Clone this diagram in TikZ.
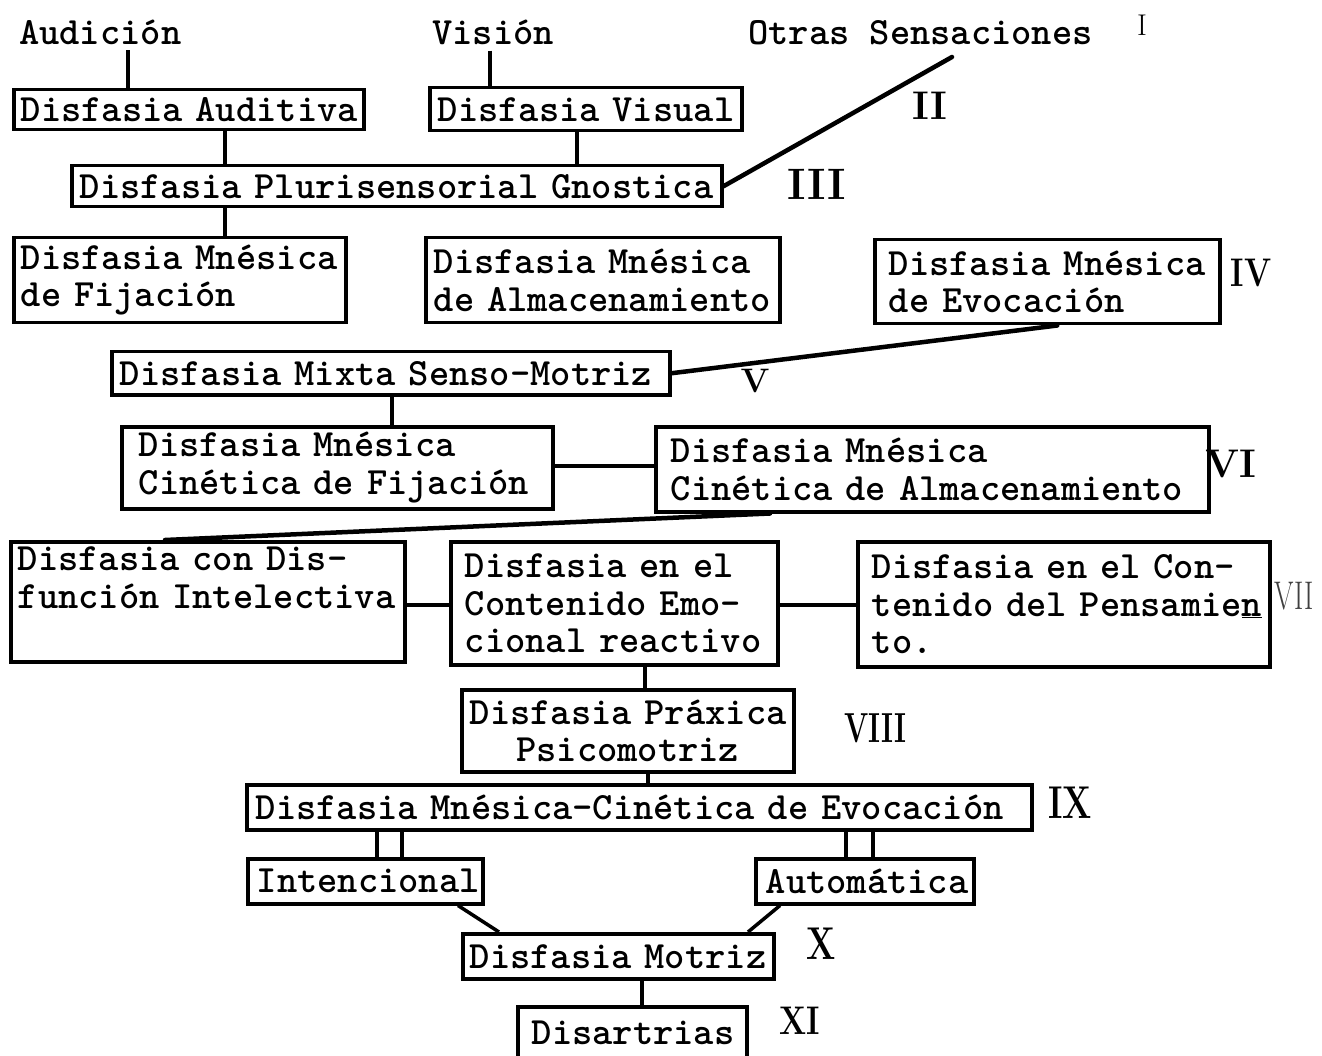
\documentclass[tikz,border=0pt]{standalone}
\usetikzlibrary{calc}
\begin{document}
\begin{tikzpicture}[x=1pt,y=-1pt,
  tw/.style={font=\fontsize{38.6}{37.5}\selectfont\ttfamily\bfseries},
  box/.style={draw, line width=3.5pt, anchor=north west, align=left,
              inner ysep=0pt, inner xsep=8pt, tw},
  lbl/.style={tw, inner xsep=0pt, inner ysep=5pt, anchor=base west},
  rom/.style={font=\fontsize{40}{40}\selectfont\rmfamily, inner sep=0pt},
  romb/.style={rom, font=\fontsize{40}{40}\selectfont\rmfamily\bfseries},
  narrow/.style={xscale=0.8, transform shape},
  con/.style={line width=3.5pt},
  dia/.style={line width=4.5pt, line cap=round}]

\fill[white] (0,0) rectangle (1322,1056);
\useasboundingbox (0,0) rectangle (1322,1056);

% sensory inputs
\node[lbl] (audl) at (19,45) {Audición};
\node[lbl] (visl) at (432,45) {Visión};
\node[lbl] (otras) at (748,45) {Otras~Sensaciones};

% boxes, level by level (lines are kept whole with ~)
\node[box, inner xsep=7pt, text width=336pt, minimum height=40pt] (audb) at (12,88) {Disfasia~Auditiva};
\node[box, text width=296pt, minimum height=43pt] (visb) at (428,86) {Disfasia~Visual};
\node[box, text width=634pt, minimum height=41pt] (pluri) at (70,164) {Disfasia~Plurisensorial~Gnostica};

\node[box, inner xsep=7pt, text width=318pt, minimum height=85pt] (fij) at (12,236) {Disfasia~Mnésica\\de~Fijación};
\node[box, text width=338pt, minimum height=85pt] (alm) at (424,236) {Disfasia~Mnésica\\de~Almacenamiento};
\node[box, inner xsep=14pt, text width=317pt, minimum height=84pt] (evo) at (873,238) {Disfasia~Mnésica\\de~Evocación};

\node[box, text width=542pt, minimum height=43pt] (mixta) at (110,350) {Disfasia~Mixta~Senso-Motriz};

\node[box, inner xsep=17pt, text width=397pt, minimum height=82pt] (cfij) at (120,425) {Disfasia~Mnésica\\Cinética~de~Fijación};
\node[box, inner xsep=15pt, text width=523pt, minimum height=85pt] (calm) at (654,425) {Disfasia~Mnésica\\Cinética~de~Almacenamiento};

\node[box, inner xsep=7pt, text width=380pt, minimum height=120pt] (disf) at (9,540) {Disfasia~con~Dis-\\función~Intelectiva\\\strut};
\node[box, inner xsep=14pt, text width=299pt, minimum height=123pt] (emo) at (449,540) {Disfasia~en~el\\Contenido~Emo-\\cional~reactivo};
\node[box, inner xsep=14pt, text width=384pt, minimum height=125pt] (pens) at (856,540) {Disfasia~en~el~Con-\\tenido~del~Pensamie\underline{n}\\to.};

\node[box, align=center, text width=316pt, minimum height=82pt] (prax) at (460,688) {Disfasia~Práxica\\Psicomotriz};
\node[box, inner xsep=9pt, text width=767pt, minimum height=45pt] (ix) at (245,783) {Disfasia~Mnésica-Cinética~de~Evocación};

\node[box, inner xsep=9pt, text width=217pt, minimum height=45pt] (int) at (246,857) {Intencional};
\node[box, inner xsep=10pt, text width=198pt, minimum height=45pt] (aut) at (754,857) {Automática};

\node[box, inner xsep=7pt, text width=297pt, minimum height=45pt] (mot) at (461,932) {Disfasia~Motriz};
\node[box, inner xsep=14pt, text width=201pt, minimum height=52pt] (dis) at (516,1005) {Disartrias};

% level numerals
\node[rom, font=\fontsize{30}{30}\selectfont\rmfamily] (n1) at (1142,25) {I};
\node[romb] (n2) at (930,106) {II};
\node[romb, font=\fontsize{44}{44}\selectfont\rmfamily\bfseries] (n3) at (817,184) {III};
\node[romb, narrow] (n4) at (1251,273) {IV};
\node[romb, font=\fontsize{34}{34}\selectfont\rmfamily\bfseries] (n5) at (755,381) {V};
\node[romb] (n6) at (1231,464) {VI};
\node[rom, text=black!75, xscale=0.7, transform shape] (n7) at (1294,596) {VII};
\node[romb, font=\fontsize{42}{42}\selectfont\rmfamily\bfseries, xscale=0.68, transform shape] (n8) at (875,728) {VIII};
\node[romb, font=\fontsize{46}{46}\selectfont\rmfamily\bfseries, xscale=0.75, transform shape] (n9) at (1070,803) {IX};
\node[romb, font=\fontsize{46}{46}\selectfont\rmfamily\bfseries, xscale=0.75, transform shape] (n10) at (821,944) {X};
\node[romb, narrow] (n11) at (800,1021) {XI};

% positions of the connector lines
\coordinate (xa) at (128,0);
\coordinate (xv) at (490,0);
\coordinate (xp1) at (225,0);
\coordinate (xp2) at (577,0);
\coordinate (xm) at (392,0);
\coordinate (xe) at (645,0);
\coordinate (xx) at (648,0);
\coordinate (xi1) at (377,0);
\coordinate (xi2) at (402,0);
\coordinate (xa1) at (846,0);
\coordinate (xa2) at (873,0);
\coordinate (xd) at (642,0);
\coordinate (xc1) at (770,0);
\coordinate (xc2) at (165,0);
\coordinate (xi3) at (458,0);
\coordinate (xm1) at (499,0);
\coordinate (xa3) at (780,0);
\coordinate (xm2) at (748,0);
\coordinate (yc) at (0,466);
\coordinate (yr) at (0,605);
\coordinate (os) at (952,57);

% connectors
\draw[con] (audl.south -| xa) -- (audb.north -| xa);
\draw[con] (visl.south -| xv) -- (visb.north -| xv);
\draw[con] (audb.south -| xp1) -- (pluri.north -| xp1);
\draw[con] (visb.south -| xp2) -- (pluri.north -| xp2);
\draw[dia] (os) -- (pluri.east);
\draw[con] (pluri.south -| xp1) -- (fij.north -| xp1);
\draw[dia] ([xshift=10pt]evo.south) -- (mixta.east);
\draw[con] (mixta.south -| xm) -- (cfij.north -| xm);
\draw[con] (cfij.east |- yc) -- (calm.west |- yc);
\draw[dia] (calm.south -| xc1) -- (disf.north -| xc2);
\draw[con] (disf.east |- yr) -- (emo.west |- yr);
\draw[con] (emo.east |- yr) -- (pens.west |- yr);
\draw[con] (emo.south -| xe) -- (prax.north -| xe);
\draw[con] (prax.south -| xx) -- (ix.north -| xx);
\draw[con] (ix.south -| xi1) -- (int.north -| xi1);
\draw[con] (ix.south -| xi2) -- (int.north -| xi2);
\draw[con] (ix.south -| xa1) -- (aut.north -| xa1);
\draw[con] (ix.south -| xa2) -- (aut.north -| xa2);
\draw[con] (int.south -| xi3) -- (mot.north -| xm1);
\draw[con] (aut.south -| xa3) -- (mot.north -| xm2);
\draw[con] (mot.south -| xd) -- (dis.north -| xd);
\end{tikzpicture}
\end{document}
